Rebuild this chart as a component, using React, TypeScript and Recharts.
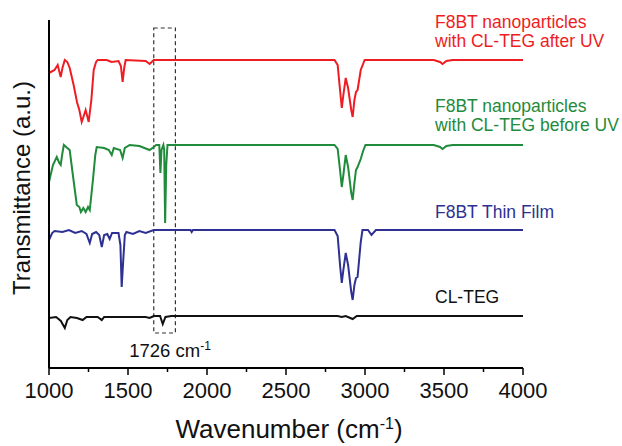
import { LineChart, Line, XAxis, YAxis, ReferenceArea, Customized } from 'recharts'

// keypoints: [wavenumber, transmittance change from baseline]
const afterUV: [number, number][] = [
  [1000, -13], [1035, -10], [1055, -5], [1074, -17], [1085, -8], [1100, 0], [1116, -2], [1131, -8],
  [1156, -25], [1177, -42], [1192, -50], [1207, -62], [1222, -55], [1232, -50], [1242, -56], [1251, -62],
  [1268, -40], [1283, -10], [1298, -2], [1308, 0], [1365, 0], [1396, -2], [1440, -1], [1455, -6],
  [1466, -22], [1476, -8], [1485, 0], [1612, -1], [1637, -4], [1663, 0], [2807, 0], [2827, -5],
  [2842, -30], [2853, -48], [2863, -35], [2878, -18], [2893, -28], [2913, -50], [2922, -57], [2933, -40],
  [2943, -32], [2953, -30], [2973, -10], [2998, 0], [3435, 0], [3475, -2], [3491, -4], [3515, -1],
  [3555, 0], [4000, 0],
]

const beforeUV: [number, number][] = [
  [1000, -37], [1025, -20], [1049, -12], [1065, -18], [1074, -20], [1085, -8], [1094, 0], [1116, -3],
  [1131, -5], [1151, -30], [1176, -60], [1192, -62], [1202, -67], [1217, -63], [1232, -67], [1247, -62],
  [1258, -65], [1278, -35], [1293, -10], [1302, -2], [1349, -3], [1379, -5], [1397, -10], [1410, -3],
  [1450, -5], [1466, -13], [1480, -3], [1511, 0], [1572, -1], [1637, -5], [1663, -2], [1678, 0],
  [1698, 0], [1705, -28], [1712, -5], [1724, 0], [1729, -5], [1735, -78], [1742, -20], [1750, 0],
  [2807, 0], [2827, -4], [2842, -25], [2853, -42], [2863, -30], [2878, -10], [2893, -22], [2913, -48],
  [2922, -55], [2933, -38], [2943, -25], [2953, -22], [2973, -14], [2988, -6], [3003, 0], [3435, 0],
  [3475, -2], [3491, -4], [3515, -1], [3555, 0], [4000, 0],
]

const thinFilm: [number, number][] = [
  [1000, -10], [1020, -3], [1035, -1], [1085, -2], [1126, 0], [1166, -3], [1207, -1], [1237, -4],
  [1258, -13], [1273, -4], [1298, -2], [1318, -5], [1334, -17], [1349, -5], [1369, -4], [1384, -9],
  [1399, -3], [1440, -3], [1452, -15], [1460, -57], [1470, -30], [1480, -5], [1490, -2], [1531, -4],
  [1572, -1], [1612, -3], [1663, 0], [1896, 0], [1903, -2], [1911, 0], [2807, 0], [2827, -6],
  [2842, -35], [2853, -53], [2863, -40], [2878, -23], [2893, -35], [2913, -62], [2922, -70], [2933, -55],
  [2943, -48], [2953, -47], [2973, -12], [2984, 0], [3019, 0], [3041, -5], [3069, 0], [4000, 0],
]

const clTeg: [number, number][] = [
  [1000, -2], [1045, -1], [1075, -5], [1100, -12], [1116, -4], [1136, -1], [1177, -2], [1213, -4],
  [1237, -1], [1308, -1], [1334, -4], [1349, -1], [1612, -1], [1637, -2], [1663, 0], [1703, 0],
  [1720, -8], [1737, -1], [1775, 0], [2827, 0], [2853, -1], [2878, 0], [2922, -3], [2948, 0], [4000, 0],
]

const xTicks = [1000, 1250, 1500, 1750, 2000, 2250, 2500, 2750, 3000, 3250, 3500, 3750, 4000]

const series = [
  { name: 'after', points: afterUV, offset: 308, color: '#ee1d23' },
  { name: 'before', points: beforeUV, offset: 223, color: '#1f8b3b' },
  { name: 'film', points: thinFilm, offset: 138, color: '#2e3192' },
  { name: 'cl', points: clTeg, offset: 52, color: '#111111' },
]

const font = '"Liberation Sans", Arial, sans-serif'

const XTick = (props: any) => {
  const { x, y, payload } = props
  const major = payload.value % 500 === 0
  return (
    <g>
      <line x1={x} x2={x} y1={y} y2={y + (major ? 7 : 4)} stroke="#000" strokeWidth={1.5} />
      {major && (
        <text x={x} y={y + 30} textAnchor="middle" fontSize={22} fontFamily={font} fill="#111">
          {payload.value}
        </text>
      )}
    </g>
  )
}

const Labels = () => (
  <g fontFamily={font}>
    <text x={435} y={28} fontSize={17.5} fill="#ee1d23">F8BT nanoparticles</text>
    <text x={435} y={47} fontSize={17.5} fill="#ee1d23">with CL-TEG after UV</text>
    <text x={435} y={112} fontSize={17.5} fill="#1f8b3b">F8BT nanoparticles</text>
    <text x={435} y={131} fontSize={17.5} fill="#1f8b3b">with CL-TEG before UV</text>
    <text x={435} y={218} fontSize={17.5} fill="#2e3192">F8BT Thin Film</text>
    <text x={435} y={303} fontSize={17.5} fill="#111">CL-TEG</text>
    <text x={170} y={357} textAnchor="middle" fontSize={18.5} fill="#111">
      1726 cm<tspan dy={-7} fontSize={12}>-1</tspan>
    </text>
    <text x={289} y={438} textAnchor="middle" fontSize={26} fill="#111">
      Wavenumber (cm<tspan dy={-9} fontSize={16}>-1</tspan>
      <tspan dy={9}>)</tspan>
    </text>
    <text x={30} y={188} textAnchor="middle" fontSize={24} fill="#111" transform="rotate(-90 30 188)">
      Transmittance (a.u.)
    </text>
  </g>
)

export default function App() {
  return (
    <div style={{ position: 'absolute', left: 0, top: 0, background: '#fff' }}>
      <LineChart width={622} height={446} margin={{ top: 20, right: 99, bottom: 0, left: 0 }}>
        <XAxis
          type="number"
          dataKey="wn"
          domain={[1000, 4000]}
          ticks={xTicks}
          allowDataOverflow
          height={78}
          tickSize={0}
          tickMargin={0}
          tickLine={false}
          tick={<XTick />}
          axisLine={{ stroke: '#000', strokeWidth: 2 }}
          interval={0}
        />
        <YAxis
          type="number"
          domain={[0, 348]}
          width={49}
          tick={false}
          tickLine={false}
          axisLine={{ stroke: '#000', strokeWidth: 2 }}
        />
        <ReferenceArea
          x1={1663}
          x2={1800}
          y1={35}
          y2={340}
          fill="none"
          stroke="#333"
          strokeWidth={1.2}
          strokeDasharray="4 3"
        />
        {series.map(s => (
          <Line
            key={s.name}
            data={s.points.map(([wn, t]) => ({ wn, v: s.offset + t }))}
            dataKey="v"
            type="linear"
            stroke={s.color}
            strokeWidth={2}
            dot={false}
            isAnimationActive={false}
          />
        ))}
        <Customized component={Labels} />
      </LineChart>
    </div>
  )
}
